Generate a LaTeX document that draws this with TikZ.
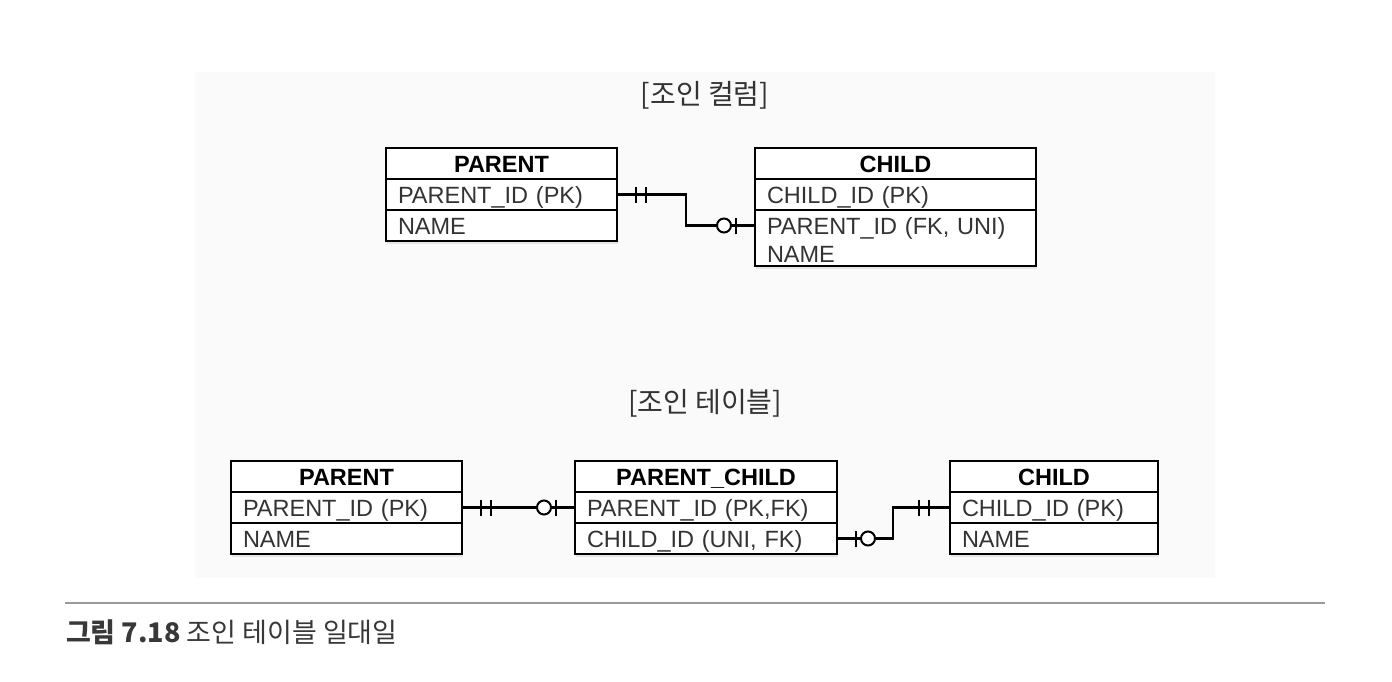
\documentclass[tikz,border=0pt]{standalone}
\usepackage{fontspec}
\setmainfont{Liberation Sans}
\newfontfamily\kr{Noto Sans CJK KR}
\usetikzlibrary{positioning}
\usetikzlibrary{decorations.markings}
\usetikzlibrary{backgrounds}

\newcommand{\barmark}{\draw[line width=2pt] (0,-8pt) -- (0,8pt);}
\newcommand{\ringmark}{\draw[line width=2pt, fill=white] (0,0) circle (7pt);}

\begin{document}
\begin{tikzpicture}
		[x=1pt, y=-1pt, line width=2pt,
		 hd/.style = {draw, fill=white, outer sep=0pt, inner xsep=12pt, inner ysep=0pt, text width=#1, minimum height=31pt, align=center, text height=17pt, text depth=0pt, font=\fontsize{23.5}{26}\selectfont\bfseries},
		 row/.style = {draw, fill=white, outer sep=0pt, inner xsep=12pt, inner ysep=0pt, text width=#1, minimum height=31pt, align=left, text height=17pt, text depth=0pt, text=black!80, font=\fontsize{23.5}{26}\selectfont},
		 ttl/.style = {text=black!80, font=\kr\fontsize{28}{32}\selectfont},
		 conn/.style = {line width=2.2pt},
		 oneone/.style = {postaction={decorate, decoration={markings, mark=at position 19pt with {\barmark}, mark=at position 29pt with {\barmark}}}},
		 onezero/.style = {postaction={decorate, decoration={markings, mark=at position 19pt with {\barmark}, mark=at position 31pt with {\ringmark}}}},
		 zeroone/.style = {postaction={decorate, decoration={markings, mark=at position -19pt with {\barmark}, mark=at position -31pt with {\ringmark}}}},
		 oneend/.style = {postaction={decorate, decoration={markings, mark=at position -21pt with {\barmark}, mark=at position -31pt with {\barmark}}}}]
	\useasboundingbox (0,0) rectangle (1392,682);

	% join column
	\node[ttl] (t1) at (705,95) {[조인 컬럼]};
	\node[hd=207pt, anchor=north west] (p1) at (386,148) {PARENT};
	\node[row=207pt] (p1id) [below=0pt of p1] {PARENT\_ID (PK)};
	\node[row=207pt] (p1nm) [below=0pt of p1id] {NAME};
	\node[hd=257pt, anchor=north west] (c1) at (755,148) {CHILD};
	\node[row=257pt] (c1id) [below=0pt of c1] {CHILD\_ID (PK)};
	\node[row=257pt, draw=none] (c1fk) [below=0pt of c1id] {PARENT\_ID (FK, UNI)};
	\node[row=257pt, draw=none, minimum height=25pt] (c1nm) [below=0pt of c1fk] {NAME};
	\draw (c1fk.north west) rectangle (c1nm.south east);
	\draw[conn, oneone, zeroone] (p1id.east) -- ++(69,0) |- (c1fk.west);

	% join table
	\node[ttl] (t2) at (705,403) {[조인 테이블]};
	\node[hd=207pt, anchor=north west] (p2) at (231,461) {PARENT};
	\node[row=207pt] (p2id) [below=0pt of p2] {PARENT\_ID (PK)};
	\node[row=207pt] (p2nm) [below=0pt of p2id] {NAME};
	\node[hd=238pt, anchor=north west] (pc) at (575,461) {PARENT\_CHILD};
	\node[row=238pt] (pcpid) [below=0pt of pc] {PARENT\_ID (PK,FK)};
	\node[row=238pt] (pccid) [below=0pt of pcpid] {CHILD\_ID (UNI, FK)};
	\node[hd=184pt, anchor=north west] (c2) at (950,461) {CHILD};
	\node[row=184pt] (c2id) [below=0pt of c2] {CHILD\_ID (PK)};
	\node[row=184pt] (c2nm) [below=0pt of c2id] {NAME};
	\draw[conn, oneone, zeroone] (p2id.east) -- (pcpid.west);
	\draw[conn, onezero, oneend] (pccid.east) -- ++(56,0) |- (c2id.west);

	% caption
	\coordinate (l1) at (65,603);
	\coordinate (l2) at (1325,603);
	\draw[black!40, line width=1.2pt] (l1) -- (l2);
	\node[anchor=west, text=black!78, font=\kr\fontsize{27}{32}\selectfont, inner sep=0pt] (cap) at (65,632) {\textbf{그림 7.18} 조인 테이블 일대일};

	\begin{scope}[on background layer]
		\fill[black!2] (195,72) rectangle (1215,578);
		\fill[black!10] ([shift={(1pt,-3pt)}]p1.north west) rectangle ([shift={(1pt,-3pt)}]p1nm.south east);
		\fill[black!10] ([shift={(1pt,-3pt)}]c1.north west) rectangle ([shift={(1pt,-3pt)}]c1nm.south east);
		\fill[black!10] ([shift={(1pt,-3pt)}]p2.north west) rectangle ([shift={(1pt,-3pt)}]p2nm.south east);
		\fill[black!10] ([shift={(1pt,-3pt)}]pc.north west) rectangle ([shift={(1pt,-3pt)}]pccid.south east);
		\fill[black!10] ([shift={(1pt,-3pt)}]c2.north west) rectangle ([shift={(1pt,-3pt)}]c2nm.south east);
	\end{scope}
\end{tikzpicture}
\end{document}
